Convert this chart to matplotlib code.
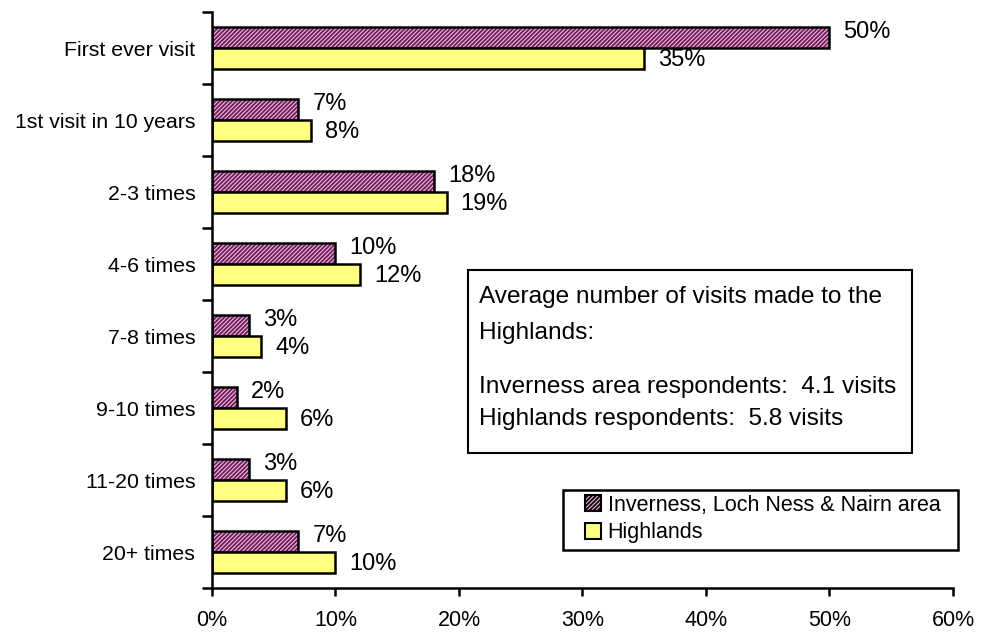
import numpy as np
import matplotlib.pyplot as plt
from matplotlib.patches import Patch, Rectangle

plt.rcParams['font.family'] = ['Liberation Sans', 'DejaVu Sans']
plt.rcParams['hatch.linewidth'] = 1.3

categories = ["First ever visit", "1st visit in 10 years", "2-3 times", "4-6 times",
              "7-8 times", "9-10 times", "11-20 times", "20+ times"]
inverness = [50, 7, 18, 10, 3, 2, 3, 7]
highlands = [35, 8, 19, 12, 4, 6, 6, 10]
series_names = ["Inverness, Loch Ness & Nairn area", "Highlands"]
x_ticks = [0, 10, 20, 30, 40, 50, 60]
box_lines = ["Average number of visits made to the", "Highlands:",
             "Inverness area respondents:  4.1 visits", "Highlands respondents:  5.8 visits"]

fig = plt.figure(figsize=(9.87, 6.33), dpi=100)
ax = fig.add_axes([212 / 987, 1 - 588 / 633, 741 / 987, 576 / 633])

y = np.arange(len(categories))
h = 0.29
pink_face = "#f2b4e2"
pink_hatch = "#6e1f58"
yellow = "#ffff80"

# hatched bar drawn in two layers so the hatch colour differs from the black edge
ax.barh(y - h / 2, inverness, height=h, color=pink_face, edgecolor=pink_hatch,
        hatch="////////", linewidth=0)
ax.barh(y - h / 2, inverness, height=h, fill=False, edgecolor="black", linewidth=1.8)
ax.barh(y + h / 2, highlands, height=h, color=yellow, edgecolor="black", linewidth=1.8)

for i in range(len(categories)):
    ax.annotate(f"{inverness[i]}%", (inverness[i], y[i] - h / 2), xytext=(10, 4),
                textcoords="offset points", va="center", ha="left", fontsize=17)
    ax.annotate(f"{highlands[i]}%", (highlands[i], y[i] + h / 2), xytext=(10, -1),
                textcoords="offset points", va="center", ha="left", fontsize=17)

ax.set_xlim(0, 60)
ax.set_ylim(len(categories) - 0.5, -0.5)
ax.set_xticks(x_ticks)
ax.set_xticklabels([f"{v}%" for v in x_ticks], fontsize=15.5)
ax.set_yticks(y)
ax.set_yticklabels(categories, fontsize=15.3)
ax.set_yticks(np.arange(-0.5, len(categories) + 0.5, 1), minor=True)
ax.tick_params(axis="y", which="major", length=0, pad=12)
ax.tick_params(axis="y", which="minor", length=7, width=1.8)
ax.tick_params(axis="x", length=6, width=1.8, pad=10)

for side in ["top", "right"]:
    ax.spines[side].set_visible(False)
for side in ["left", "bottom"]:
    ax.spines[side].set_linewidth(1.8)

# info box
fig.add_artist(Rectangle((468 / 987, 1 - 453 / 633), 444 / 987, 183 / 633,
                         transform=fig.transFigure, facecolor="white",
                         edgecolor="black", linewidth=1.5))
for line, ypix in zip(box_lines, [297, 333, 387, 419]):
    fig.text(479 / 987, 1 - ypix / 633, line, fontsize=17.6, va="center", ha="left")

# legend: frame drawn by hand to get the wide left margin of the original
fig.add_artist(Rectangle((563 / 987, 1 - 550 / 633), 395 / 987, 60 / 633,
                         transform=fig.transFigure, facecolor="white",
                         edgecolor="black", linewidth=1.8))
handles = [Patch(facecolor=pink_face, edgecolor="black", hatch="////////", linewidth=1.5),
           Patch(facecolor=yellow, edgecolor="black", linewidth=1.5)]
leg = fig.legend(handles, series_names, loc="center left",
                 bbox_to_anchor=(585 / 987, 1 - 519 / 633),
                 fontsize=15.5, frameon=False,
                 handlelength=0.75, handleheight=0.75, handletextpad=0.3,
                 borderpad=0, labelspacing=0.3, borderaxespad=0)

fig.savefig("out.png", dpi=100)
